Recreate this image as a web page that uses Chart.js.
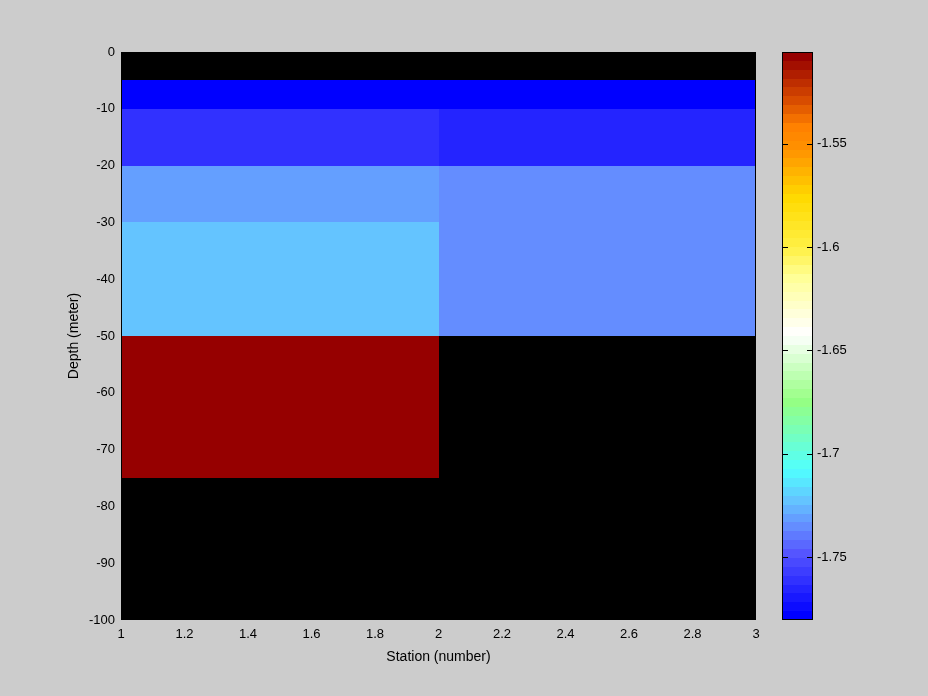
<!DOCTYPE html>
<html>
<head>
<meta charset="utf-8">
<script src="https://cdn.jsdelivr.net/npm/chart.js@4/dist/chart.umd.min.js"></script>
<style>
body { margin: 0; background: #cccccc; }
#main { position: absolute; left: 0; top: 0; }
#cbar { position: absolute; left: 760px; top: 0; }
</style>
</head>
<body>
<canvas id="main" width="928" height="696"></canvas>
<canvas id="cbar" width="168" height="696"></canvas>
<script>
// grid of the section: station edges (x) and depth edges (y)
const stationEdges = [1, 2, 3];
const depthEdges = [0, -5, -10, -20, -30, -50, -75, -100];
// one value per depth layer, null = no data
const station1 = [null, -1.779, -1.7612, -1.7311, -1.7225, -1.508, null];
const station2 = [null, -1.779, -1.7655, -1.7354, -1.7354, null, null];

const xTicks = [1, 1.2, 1.4, 1.6, 1.8, 2, 2.2, 2.4, 2.6, 2.8, 3];
const yTicks = [0, -10, -20, -30, -40, -50, -60, -70, -80, -90, -100];
const cbTicks = [-1.75, -1.7, -1.65, -1.6, -1.55];
const cbMin = -1.7805;
const cbMax = -1.5055;
const nColors = 64;

// colormap anchors (value -> rgb)
const cmStops = [-1.7805, -1.75, -1.737, -1.724, -1.709, -1.675, -1.642, -1.614, -1.6, -1.575, -1.553, -1.54, -1.527, -1.5055];
const cmRgb = [[0,0,255],[85,85,255],[100,140,255],[100,195,255],[80,255,255],[150,255,130],[255,255,255],[255,255,150],[255,240,70],[255,218,0],[255,150,0],[255,128,0],[215,75,0],[150,0,0]];

Chart.defaults.font.family = "'Liberation Sans', Arial, sans-serif";
Chart.defaults.font.size = 13;
Chart.defaults.color = '#000';

function binColor(i) {
    var v = cbMin + i / (nColors - 1) * (cbMax - cbMin);
    var k = 0;
    while (k < cmStops.length - 2 && v > cmStops[k + 1]) k++;
    var t = (v - cmStops[k]) / (cmStops[k + 1] - cmStops[k]);
    t = Math.max(0, Math.min(1, t));
    var a = cmRgb[k], b = cmRgb[k + 1];
    return 'rgb(' + [0, 1, 2].map(j => Math.round(a[j] + (b[j] - a[j]) * t)).join(',') + ')';
}

function valueColor(v) {
    if (v == null) return '#000000';
    var i = Math.floor((v - cbMin) / (cbMax - cbMin) * nColors);
    i = Math.max(0, Math.min(nColors - 1, i));
    return binColor(i);
}

const cellPlugin = {
    id: 'cells',
    beforeDatasetsDraw(chart) {
        const ctx = chart.ctx, xs = chart.scales.x, ys = chart.scales.y;
        const cols = [station1, station2];
        ctx.save();
        for (var c = 0; c < cols.length; c++) {
            var x0 = Math.round(xs.getPixelForValue(stationEdges[c]));
            var x1 = Math.round(xs.getPixelForValue(stationEdges[c + 1]));
            for (var r = 0; r < cols[c].length; r++) {
                var y0 = Math.round(ys.getPixelForValue(depthEdges[r]));
                var y1 = Math.round(ys.getPixelForValue(depthEdges[r + 1]));
                ctx.fillStyle = valueColor(cols[c][r]);
                ctx.fillRect(x0, y0, x1 - x0, y1 - y0);
            }
        }
        ctx.restore();
    },
    afterDatasetsDraw(chart) {
        const a = chart.chartArea, ctx = chart.ctx;
        ctx.save();
        ctx.strokeStyle = '#000';
        ctx.lineWidth = 1;
        ctx.strokeRect(Math.round(a.left) + 0.5, Math.round(a.top) + 0.5, Math.round(a.right - a.left) - 1, Math.round(a.bottom - a.top) - 1);
        ctx.restore();
    }
};

const cbarPlugin = {
    id: 'cbarDraw',
    beforeDatasetsDraw(chart) {
        const ctx = chart.ctx, ys = chart.scales.y, a = chart.chartArea;
        const step = (cbMax - cbMin) / nColors;
        ctx.save();
        for (var i = 0; i < nColors; i++) {
            var yb = Math.round(ys.getPixelForValue(cbMin + i * step));
            var yt = Math.round(ys.getPixelForValue(cbMin + (i + 1) * step));
            ctx.fillStyle = binColor(i);
            ctx.fillRect(Math.round(a.left), yt, Math.round(a.right - a.left), yb - yt);
        }
        ctx.strokeStyle = '#000';
        ctx.lineWidth = 1;
        ctx.strokeRect(Math.round(a.left) + 0.5, Math.round(a.top) + 0.5, Math.round(a.right - a.left) - 1, Math.round(a.bottom - a.top) - 1);
        ctx.beginPath();
        cbTicks.forEach(function (v) {
            var y = Math.round(ys.getPixelForValue(v)) + 0.5;
            ctx.moveTo(a.left, y); ctx.lineTo(a.left + 6, y);
            ctx.moveTo(a.right - 6, y); ctx.lineTo(a.right, y);
        });
        ctx.stroke();
        ctx.restore();
    }
};

new Chart(document.getElementById('main'), {
    type: 'scatter',
    data: { datasets: [{ data: [], pointRadius: 0 }] },
    options: {
        responsive: false,
        animation: false,
        layout: { padding: { left: 60, right: 172, top: 52, bottom: 0 } },
        plugins: { legend: { display: false }, tooltip: { enabled: false } },
        scales: {
            x: {
                type: 'linear', min: 1, max: 3,
                afterBuildTicks: s => { s.ticks = xTicks.map(v => ({ value: v })); },
                afterFit: s => { s.height = 76; },
                grid: { display: false, drawTicks: false },
                border: { display: false },
                ticks: { padding: 7, maxRotation: 0, autoSkip: false, callback: v => String(v) },
                title: { display: true, text: 'Station (number)', font: { size: 14 }, padding: { top: 4, bottom: 30 } }
            },
            y: {
                type: 'linear', min: -100, max: 0,
                afterBuildTicks: s => { s.ticks = yTicks.map(v => ({ value: v })); },
                afterFit: s => { s.width = 61; },
                grid: { display: false, drawTicks: false },
                border: { display: false },
                ticks: { padding: 6, autoSkip: false, callback: v => String(v) },
                title: { display: true, text: 'Depth (meter)', font: { size: 14 }, padding: { top: 6, bottom: 0 } }
            }
        }
    },
    plugins: [cellPlugin]
});

new Chart(document.getElementById('cbar'), {
    type: 'scatter',
    data: { datasets: [{ data: [], pointRadius: 0 }] },
    options: {
        responsive: false,
        animation: false,
        layout: { padding: { left: 22, right: 0, top: 52, bottom: 76 } },
        plugins: { legend: { display: false }, tooltip: { enabled: false } },
        scales: {
            x: { type: 'linear', min: 0, max: 1, display: false },
            y: {
                type: 'linear', position: 'right', min: cbMin, max: cbMax,
                afterBuildTicks: s => { s.ticks = cbTicks.map(v => ({ value: v })); },
                afterFit: s => { s.width = 115; },
                grid: { display: false, drawTicks: false },
                border: { display: false },
                ticks: { padding: 4, autoSkip: false, callback: v => String(v) }
            }
        }
    },
    plugins: [cbarPlugin]
});
</script>
</body>
</html>
